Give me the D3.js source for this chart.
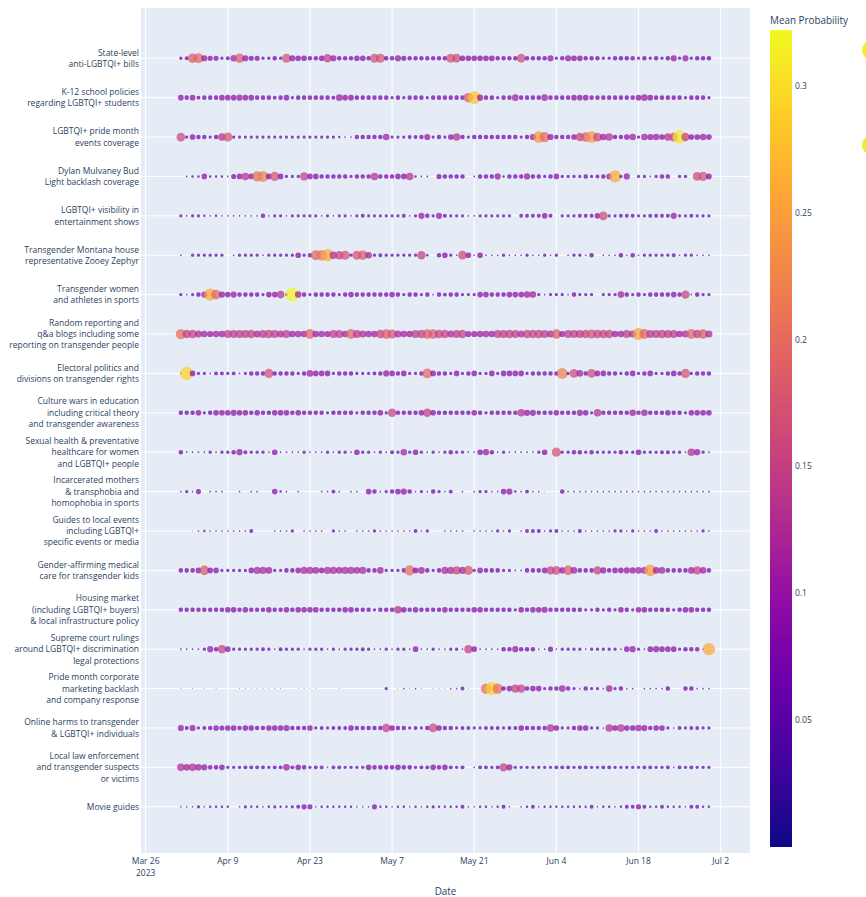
<!DOCTYPE html>
<html>
<head>
<meta charset="utf-8">
<script src="https://cdn.jsdelivr.net/npm/d3@7"></script>
<style>
  body { margin: 0; background: #fff; }
  text { font-family: "Open Sans", Arial, sans-serif; fill: #2a3f5f; }
</style>
</head>
<body>
<svg id="chart" width="866" height="897"></svg>
<script>
// Topic names (one entry per row, split into display lines)
const topicLabels = [
  ["State-level", "anti-LGBTQI+ bills"],
  ["K-12 school policies", "regarding LGBTQI+ students"],
  ["LGBTQI+ pride month", "events coverage"],
  ["Dylan Mulvaney Bud", "Light backlash coverage"],
  ["LGBTQI+ visibility in", "entertainment shows"],
  ["Transgender Montana house", "representative Zooey Zephyr"],
  ["Transgender women", "and athletes in sports"],
  ["Random reporting and", "q&a blogs including some", "reporting on transgender people"],
  ["Electoral politics and", "divisions on transgender rights"],
  ["Culture wars in education", "including critical theory", "and transgender awareness"],
  ["Sexual health & preventative", "healthcare for women", "and LGBTQI+ people"],
  ["Incarcerated mothers", "& transphobia and", "homophobia in sports"],
  ["Guides to local events", "including LGBTQI+", "specific events or media"],
  ["Gender-affirming medical", "care for transgender kids"],
  ["Housing market", "(including LGBTQI+ buyers)", "& local infrastructure policy"],
  ["Supreme court rulings", "around LGBTQI+ discrimination", "legal protections"],
  ["Pride month corporate", "marketing backlash", "and company response"],
  ["Online harms to transgender", "& LGBTQI+ individuals"],
  ["Local law enforcement", "and transgender suspects", "or victims"],
  ["Movie guides"]
];

// Daily mean probability per topic, in hundredths, 2023-04-01 .. 2023-06-30 (0 = no posts that day)
const firstDay = "2023-04-01";
const stateBills = [5,6,18,19,10,8,8,5,6,11,18,10,8,8,5,5,7,5,17,10,9,9,7,7,9,15,10,7,7,7,9,9,7,17,17,7,7,10,8,7,7,7,7,7,7,
  7,17,16,9,9,9,9,9,9,7,7,7,7,16,7,7,7,7,10,5,7,10,9,9,7,7,7,5,5,7,7,7,7,5,7,5,7,5,7,10,5,10,5,7,7,7];
const schoolPolicies = [9,7,9,6,7,7,7,9,9,9,10,9,9,7,7,7,6,7,9,5,7,7,7,7,7,7,6,11,9,9,7,7,7,7,7,7,5,7,5,7,7,7,5,7,7,
  7,7,7,7,18,28,10,7,7,5,7,7,11,7,7,7,7,11,7,7,7,7,9,9,9,7,7,7,7,7,7,7,7,9,11,9,7,7,7,7,7,5,7,7,7,5];
const prideEvents = [16,5,9,7,7,5,7,13,17,5,5,5,5,5,5,5,5,5,5,5,5,5,5,5,5,5,5,4,3,3,7,7,7,7,7,11,5,5,5,6,6,7,10,5,7,
  5,9,13,7,5,7,7,7,7,7,7,7,7,5,7,10,24,20,10,7,7,7,9,15,18,24,16,11,13,7,7,9,11,5,11,10,11,9,13,16,31,15,9,9,11,9];
const budLight = [0,3,4,4,9,4,4,4,3,8,9,13,9,20,22,9,17,9,5,5,5,15,9,9,7,7,7,7,7,5,7,7,7,13,7,7,7,9,9,13,4,3,3,0,8,
  7,7,7,7,0,3,7,7,7,10,4,7,7,7,10,7,7,5,7,9,5,5,5,5,7,5,6,7,9,26,5,10,0,5,5,3,5,7,7,0,5,5,0,16,17,9];
const entertainment = [5,3,5,5,4,3,4,3,3,3,3,3,3,3,7,3,5,5,3,5,5,5,5,5,3,5,3,5,5,3,5,6,5,5,5,5,5,5,6,3,5,10,7,5,10,
  6,5,5,5,3,3,5,5,5,5,5,5,0,6,6,6,6,9,6,0,5,5,5,6,6,6,9,16,5,5,6,6,6,5,5,6,6,6,6,10,5,5,6,5,5,5];
const zephyr = [3,0,5,5,5,5,5,5,0,3,5,5,5,5,3,5,5,5,5,5,9,5,7,19,21,26,13,15,17,5,17,18,11,5,6,5,5,5,5,5,5,15,4,0,7,
  9,5,3,16,9,3,9,3,3,3,5,3,3,3,5,3,3,5,3,5,0,3,5,5,3,7,0,3,3,3,7,3,7,3,5,5,5,5,5,6,3,5,5,3,3,3];
const athletes = [5,3,5,7,10,26,19,10,9,10,7,7,7,7,5,9,9,13,5,32,11,7,5,7,7,7,7,5,7,9,7,7,7,7,7,7,9,7,5,7,7,5,7,3,7,
  6,7,7,5,5,5,9,9,7,7,7,9,9,9,11,11,5,3,5,5,5,3,7,5,5,5,0,5,5,5,11,7,5,7,5,7,7,7,7,9,7,15,3,7,5,5];
const randomReporting = [20,15,15,12,11,10,11,11,14,14,14,14,15,12,14,15,14,12,14,11,11,11,19,11,11,10,14,14,11,19,14,12,11,11,15,18,17,12,11,11,14,15,18,18,15,
  15,12,14,15,10,10,11,11,11,14,14,15,14,12,15,15,15,14,12,18,10,14,14,14,15,17,15,15,15,11,11,14,12,25,19,14,14,15,14,14,11,12,19,15,18,12];
const electoral = [3,29,9,5,5,3,6,6,5,6,3,5,7,7,7,17,7,7,7,7,5,7,11,9,9,9,5,7,7,7,5,5,5,6,7,10,9,7,9,5,5,7,19,9,7,
  7,5,9,5,7,9,5,5,9,5,9,9,9,9,5,7,7,7,7,7,22,5,16,11,7,16,9,9,7,7,5,7,9,5,7,9,5,5,7,9,7,17,5,7,7,7];
const cultureWars = [7,7,7,9,5,7,9,9,9,10,9,9,7,9,7,7,9,9,9,7,9,7,7,7,7,5,7,7,7,7,5,7,7,7,9,5,15,7,7,7,7,9,15,9,7,
  7,7,7,7,7,9,7,5,7,7,7,7,7,13,10,10,7,7,7,9,7,7,7,10,9,5,13,7,7,7,7,7,11,7,11,7,7,7,9,7,7,5,9,9,9,9];
const sexualHealth = [7,3,3,3,3,5,3,5,5,7,10,6,5,5,5,3,9,3,3,3,3,5,3,3,3,5,3,5,5,3,9,5,5,3,5,3,6,5,11,5,9,5,3,5,3,
  5,7,5,5,3,3,9,10,7,3,5,3,3,3,3,3,5,9,0,17,5,5,7,7,5,7,5,5,5,5,7,5,5,9,5,5,5,6,6,5,5,3,13,10,5,3];
const incarcerated = [3,5,3,8,0,3,3,3,0,0,3,0,3,3,0,0,9,4,3,0,3,0,0,0,3,3,6,3,0,3,3,0,9,7,3,5,7,9,10,7,3,5,3,7,5,
  3,6,0,3,0,3,5,5,3,3,9,10,4,3,6,3,3,2,0,0,7,3,3,3,3,3,3,3,3,3,3,3,3,3,3,3,3,3,3,3,3,3,3,3,3,3];
const localEvents = [0,0,2,3,4,3,3,3,3,3,3,3,6,0,0,0,3,3,3,5,0,3,3,3,3,0,5,3,3,0,3,3,3,5,3,3,3,3,3,3,6,3,5,0,0,
  3,3,3,3,0,3,3,3,3,5,3,5,0,3,6,6,6,3,5,6,3,3,3,6,3,3,3,3,3,5,5,3,5,3,3,3,6,3,3,3,3,3,3,3,5,3];
const genderAffirming = [7,7,7,9,18,9,9,5,5,5,5,5,9,12,12,11,5,5,7,7,9,12,12,11,9,12,12,11,12,12,11,12,7,7,11,5,5,5,7,20,9,11,7,5,7,
  12,12,15,12,17,5,9,7,7,7,5,5,3,3,7,7,7,9,15,16,10,18,11,7,7,7,15,10,7,9,9,10,10,11,11,25,11,11,7,7,7,7,11,15,11,7];
const housing = [7,7,7,7,7,7,7,7,9,9,7,9,7,7,7,9,7,7,9,7,9,9,9,9,7,7,7,7,9,9,7,7,7,5,7,7,7,13,9,7,9,7,7,7,7,
  9,7,7,7,7,9,9,7,7,7,7,7,5,9,7,9,9,10,7,7,7,7,7,7,5,5,7,5,7,5,9,7,5,9,9,7,7,7,7,5,7,9,9,7,7,7];
const supremeCourt = [3,3,3,3,5,10,7,15,9,5,5,5,5,5,6,5,3,6,5,5,5,3,5,5,5,3,5,3,5,5,5,6,5,3,3,5,3,5,5,3,9,3,3,5,3,
  3,5,5,3,15,9,3,3,3,3,7,7,10,7,7,7,3,3,8,3,5,5,5,5,3,5,5,5,5,5,3,9,10,5,3,9,10,9,9,9,5,7,7,7,3,26];
const corporateBacklash = [2,0,2,0,2,0,2,0,0,0,2,2,2,2,2,2,2,2,0,0,2,2,2,2,0,0,0,2,0,0,0,0,0,0,0,5,0,2,3,2,3,2,0,2,2,
  2,3,3,6,2,0,0,20,29,20,7,9,15,15,7,9,9,5,7,7,11,7,5,3,7,5,5,3,11,5,7,3,3,0,3,3,3,3,7,0,0,7,7,3,3,3];
const onlineHarms = [10,6,10,5,6,7,9,8,9,9,7,9,9,7,7,9,9,9,10,7,7,7,9,5,6,5,6,6,6,9,7,7,7,7,7,15,9,7,7,5,6,5,7,16,9,
  7,7,5,6,6,5,5,6,6,6,5,6,6,9,7,7,7,7,13,9,5,5,7,9,9,5,5,3,13,9,13,9,9,11,10,7,9,9,5,3,6,5,6,6,5,5];
const lawEnforcement = [13,11,13,11,10,7,7,9,5,5,5,6,6,6,6,5,6,6,11,6,9,7,5,6,6,3,6,6,5,5,5,5,9,7,7,7,7,9,7,7,5,6,6,9,7,
  9,6,5,6,0,3,6,6,5,6,15,10,5,5,5,5,5,5,5,6,6,6,5,6,6,5,5,6,6,5,5,5,5,5,6,6,5,5,6,3,6,5,6,5,5,5];
const movieGuides = [3,3,3,5,3,4,4,4,4,0,3,5,4,4,3,4,5,4,4,5,6,8,8,3,4,4,4,4,4,4,3,3,3,8,4,4,3,4,4,3,4,3,4,5,4,
  4,4,4,6,3,3,4,4,3,4,6,3,0,3,4,6,3,4,4,4,4,4,4,4,4,6,3,4,4,3,4,6,6,8,6,4,4,6,4,4,4,3,6,6,4,4];

const topicSeries = [stateBills, schoolPolicies, prideEvents, budLight, entertainment, zephyr, athletes,
  randomReporting, electoral, cultureWars, sexualHealth, incarcerated, localEvents, genderAffirming,
  housing, supremeCourt, corporateBacklash, onlineHarms, lawEnforcement, movieGuides];

// Axis ticks
const dateTicks = ["2023-03-26", "2023-04-09", "2023-04-23", "2023-05-07", "2023-05-21", "2023-06-04", "2023-06-18", "2023-07-02"];
const colorTicks = [0.05, 0.1, 0.15, 0.2, 0.25, 0.3];
const colorMax = 0.322;

// ---------------------------------------------------------------
const svg = d3.select("#chart");
const plot = { left: 141, right: 750, top: 8, bottom: 853 };

const x = d3.scaleUtc()
  .domain([Date.UTC(2023, 2, 25, 5), Date.UTC(2023, 6, 7)])
  .range([plot.left, plot.right]);

const topicKeys = topicLabels.map(d => d.join(" "));
const y = d3.scalePoint().domain(topicKeys).range([9, 856]).padding(1.25);

const color = d3.scaleSequential(d3.interpolatePlasma).domain([0, colorMax]);
const radius = d3.scaleSqrt().domain([0.0143, colorMax]).range([0, 7]).clamp(true);

// Plot background
svg.append("rect")
  .attr("x", plot.left).attr("y", plot.top)
  .attr("width", plot.right - plot.left).attr("height", plot.bottom - plot.top)
  .attr("fill", "#E5ECF6");

const parseDay = d3.utcParse("%Y-%m-%d");
const tickDates = dateTicks.map(parseDay);

// Vertical grid lines
svg.append("g").selectAll("line").data(tickDates).join("line")
  .attr("x1", d => x(d)).attr("x2", d => x(d))
  .attr("y1", plot.top).attr("y2", plot.bottom)
  .attr("stroke", "#fff").attr("stroke-width", 1);

// Horizontal grid lines
svg.append("g").selectAll("line").data(topicKeys).join("line")
  .attr("x1", plot.left).attr("x2", plot.right)
  .attr("y1", d => y(d)).attr("y2", d => y(d))
  .attr("stroke", "#fff").attr("stroke-width", 1);

// Bubbles
const start = parseDay(firstDay);
const points = [];
topicSeries.forEach((series, t) => {
  series.forEach((v, i) => {
    if (v > 0) points.push({ topic: topicKeys[t], date: d3.utcDay.offset(start, i), value: v / 100 });
  });
});

svg.append("g").selectAll("circle").data(points).join("circle")
  .attr("cx", d => x(d.date))
  .attr("cy", d => y(d.topic))
  .attr("r", d => Math.max(0.45, radius(d.value)))
  .attr("fill", d => color(d.value))
  .attr("fill-opacity", 0.72);

// X axis labels
const fmt = d3.utcFormat("%b %-d");
const xLab = svg.append("g").attr("font-size", 8.5).attr("text-anchor", "middle");
tickDates.forEach((d, k) => {
  const t = xLab.append("text").attr("x", x(d)).attr("y", 864);
  t.append("tspan").attr("x", x(d)).text(fmt(d));
  if (k === 0) t.append("tspan").attr("x", x(d)).attr("dy", 11.5).text(d3.utcFormat("%Y")(d));
});
svg.append("text").attr("x", (plot.left + plot.right) / 2).attr("y", 895)
  .attr("text-anchor", "middle").attr("font-size", 9.9).text("Date");

// Y axis labels
const yLab = svg.append("g").attr("font-size", 8.5).attr("text-anchor", "end");
topicLabels.forEach((lines, t) => {
  const lh = 11.4;
  const cy = y(topicKeys[t]);
  const y0 = cy - (lines.length - 1) * lh / 2 + 3;
  const txt = yLab.append("text").attr("y", y0);
  lines.forEach((ln, j) => {
    txt.append("tspan").attr("x", 139).attr("y", y0 + j * lh).text(ln);
  });
});

// Colour bar
const cb = { x: 770, width: 22, top: 30, bottom: 847 };
const cbScale = d3.scaleLinear().domain([0, colorMax]).range([cb.bottom, cb.top]);
const grad = svg.append("defs").append("linearGradient")
  .attr("id", "cbGrad").attr("x1", 0).attr("y1", 1).attr("x2", 0).attr("y2", 0);
d3.range(0, 1.0001, 0.05).forEach(s => {
  grad.append("stop").attr("offset", s).attr("stop-color", d3.interpolatePlasma(s));
});
svg.append("rect").attr("x", cb.x).attr("y", cb.top)
  .attr("width", cb.width).attr("height", cb.bottom - cb.top)
  .attr("fill", "url(#cbGrad)");
svg.append("g").attr("font-size", 8.5).selectAll("text").data(colorTicks).join("text")
  .attr("x", cb.x + cb.width + 3)
  .attr("y", d => cbScale(d) + 3)
  .text(d => d);
svg.append("text").attr("x", cb.x).attr("y", 24).attr("font-size", 9.9).text("Mean Probability");

// Size key glyphs peeking in at the right edge
svg.append("g").selectAll("circle").data([0.3, 0.3]).join("circle")
  .attr("cx", 872)
  .attr("cy", (d, i) => 50 + i * 95)
  .attr("r", 10)
  .attr("fill", d => color(colorMax * 0.97));
</script>
</body>
</html>
